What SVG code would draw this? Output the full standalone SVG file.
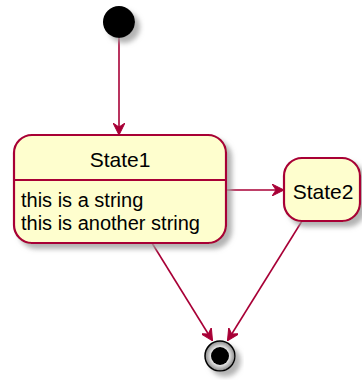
<svg xmlns="http://www.w3.org/2000/svg" width="362" height="380" viewBox="0 0 362 380">
<style>
.st{fill:#FEFECE;stroke:#A80036;stroke-width:2.2}
.ln{fill:none;stroke:#A80036;stroke-width:1.6}
.t{font-family:"Liberation Sans",Arial,sans-serif;fill:#000}
</style>
<defs>
<filter id="sh" x="-20%" y="-20%" width="150%" height="150%">
<feGaussianBlur in="SourceAlpha" stdDeviation="2.5"/>
<feOffset dx="5" dy="5" result="b"/>
<feColorMatrix in="b" type="matrix" values="0 0 0 0 0.35  0 0 0 0 0.35  0 0 0 0 0.35  0 0 0 0.8 0" result="c"/>
<feMerge><feMergeNode in="c"/><feMergeNode in="SourceGraphic"/></feMerge>
</filter>
<radialGradient id="eg">
<stop offset="0.5" stop-color="#fff"/>
<stop offset="1" stop-color="#888"/>
</radialGradient>
<marker id="ah" viewBox="0 0 12 12" refX="11" refY="6" markerWidth="12" markerHeight="12" markerUnits="userSpaceOnUse" orient="auto">
<path d="M0,0 L12,6 L0,12 L4,6 Z" fill="#A80036" stroke="#A80036" stroke-width="1"/>
</marker>
</defs>
<g id="connectors">
<line class="ln" x1="119" y1="38" x2="119" y2="134" marker-end="url(#ah)"/>
<line class="ln" x1="226" y1="190" x2="283" y2="190" marker-end="url(#ah)"/>
<line class="ln" x1="152" y1="243" x2="212" y2="340" marker-end="url(#ah)"/>
<line class="ln" x1="302" y1="221" x2="228" y2="340" marker-end="url(#ah)"/>
</g>
<g id="start">
<circle cx="119" cy="22" r="16" fill="#000" filter="url(#sh)"/>
</g>
<g id="State1">
<rect class="st" x="14" y="135" width="212" height="108" rx="18" ry="18" filter="url(#sh)"/>
<line x1="14" y1="180" x2="226" y2="180" stroke="#A80036" stroke-width="2"/>
<text class="t" x="120" y="167" font-size="21" text-anchor="middle">State1</text>
<text class="t" x="21" y="207" font-size="20">this is a string</text>
<text class="t" x="21" y="230" font-size="20">this is another string</text>
</g>
<g id="State2">
<rect class="st" x="284" y="158" width="76" height="63" rx="18" ry="18" filter="url(#sh)"/>
<text class="t" x="323" y="199" font-size="21" text-anchor="middle">State2</text>
</g>
<g id="end">
<circle cx="220" cy="356" r="15" fill="url(#eg)" stroke="#000" stroke-width="1.5" filter="url(#sh)"/>
<circle cx="220" cy="356" r="9" fill="#000"/>
</g>
</svg>
